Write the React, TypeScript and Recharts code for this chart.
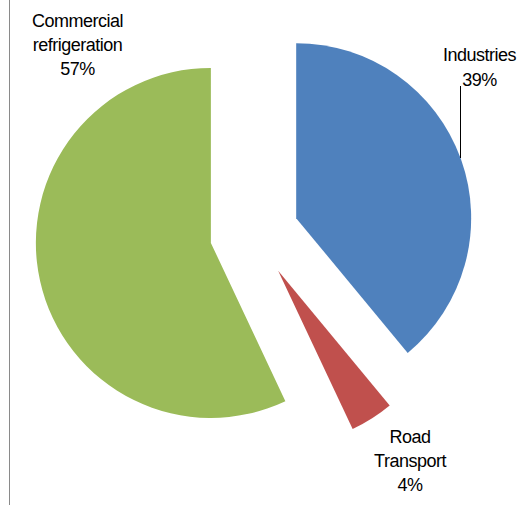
import { PieChart, Pie, Cell } from 'recharts';

const categories = ['Industries', 'Road Transport', 'Commercial refrigeration'];
const shares = [39, 4, 57];
const colors = ['#4F81BD', '#C0504D', '#9BBB59'];

const data = categories.map((name, i) => ({ name, value: shares[i] }));

const W = 520;
const H = 505;
const CX = 254.3;
const CY = 233.2;
const R = 175;
const EXPLODE = 44.5;

// label anchors (centre x, first baseline) per slice
const labelPos = [
  { x: 479.5, y: 61 },
  { x: 410, y: 443 },
  { x: 77.5, y: 27 },
];

const total = shares.reduce((a, b) => a + b, 0);
const centers = shares.map((v, i) => {
  const before = shares.slice(0, i).reduce((a, b) => a + b, 0);
  const mid = ((before + v / 2) / total) * 2 * Math.PI;
  return { cx: CX + EXPLODE * Math.sin(mid), cy: CY - EXPLODE * Math.cos(mid) };
});

const font = { fontFamily: '"Liberation Sans", Arial, sans-serif', fontSize: 18, letterSpacing: -0.5, fill: '#000' };

function makeLabel(k: number) {
  return (props: any) => {
    if (props.index !== k) return <g />;
    const { x, y } = labelPos[k];
    const lines = categories[k].split(' ');
    lines.push(`${shares[k]}%`);
    return (
      <g>
        {lines.map((t, j) => (
          <text key={j} x={x} y={y + j * (k === 0 ? 25 : 24)} textAnchor="middle" {...font}>
            {t}
          </text>
        ))}
        {k === 0 && <line x1={460.5} y1={86} x2={460.5} y2={158} stroke="#000" strokeWidth={1} />}
      </g>
    );
  };
}

export default function App() {
  return (
    <div style={{ position: 'absolute', left: 0, top: 0, width: W, height: H, background: '#fff' }}>
      <div style={{ position: 'absolute', left: 9, top: 0, width: 1, height: H, background: '#8a8a8a' }} />
      <PieChart width={W} height={H} margin={{ top: 0, right: 0, bottom: 0, left: 0 }}>
        {categories.map((_, k) => (
          <Pie
            key={k}
            data={data}
            dataKey="value"
            nameKey="name"
            cx={centers[k].cx}
            cy={centers[k].cy}
            outerRadius={R}
            innerRadius={0}
            startAngle={90}
            endAngle={-270}
            stroke="none"
            label={makeLabel(k)}
            labelLine={false}
            isAnimationActive={false}
          >
            {data.map((_, i) => (
              <Cell key={i} fill={i === k ? colors[i] : 'none'} />
            ))}
          </Pie>
        ))}
      </PieChart>
    </div>
  );
}
